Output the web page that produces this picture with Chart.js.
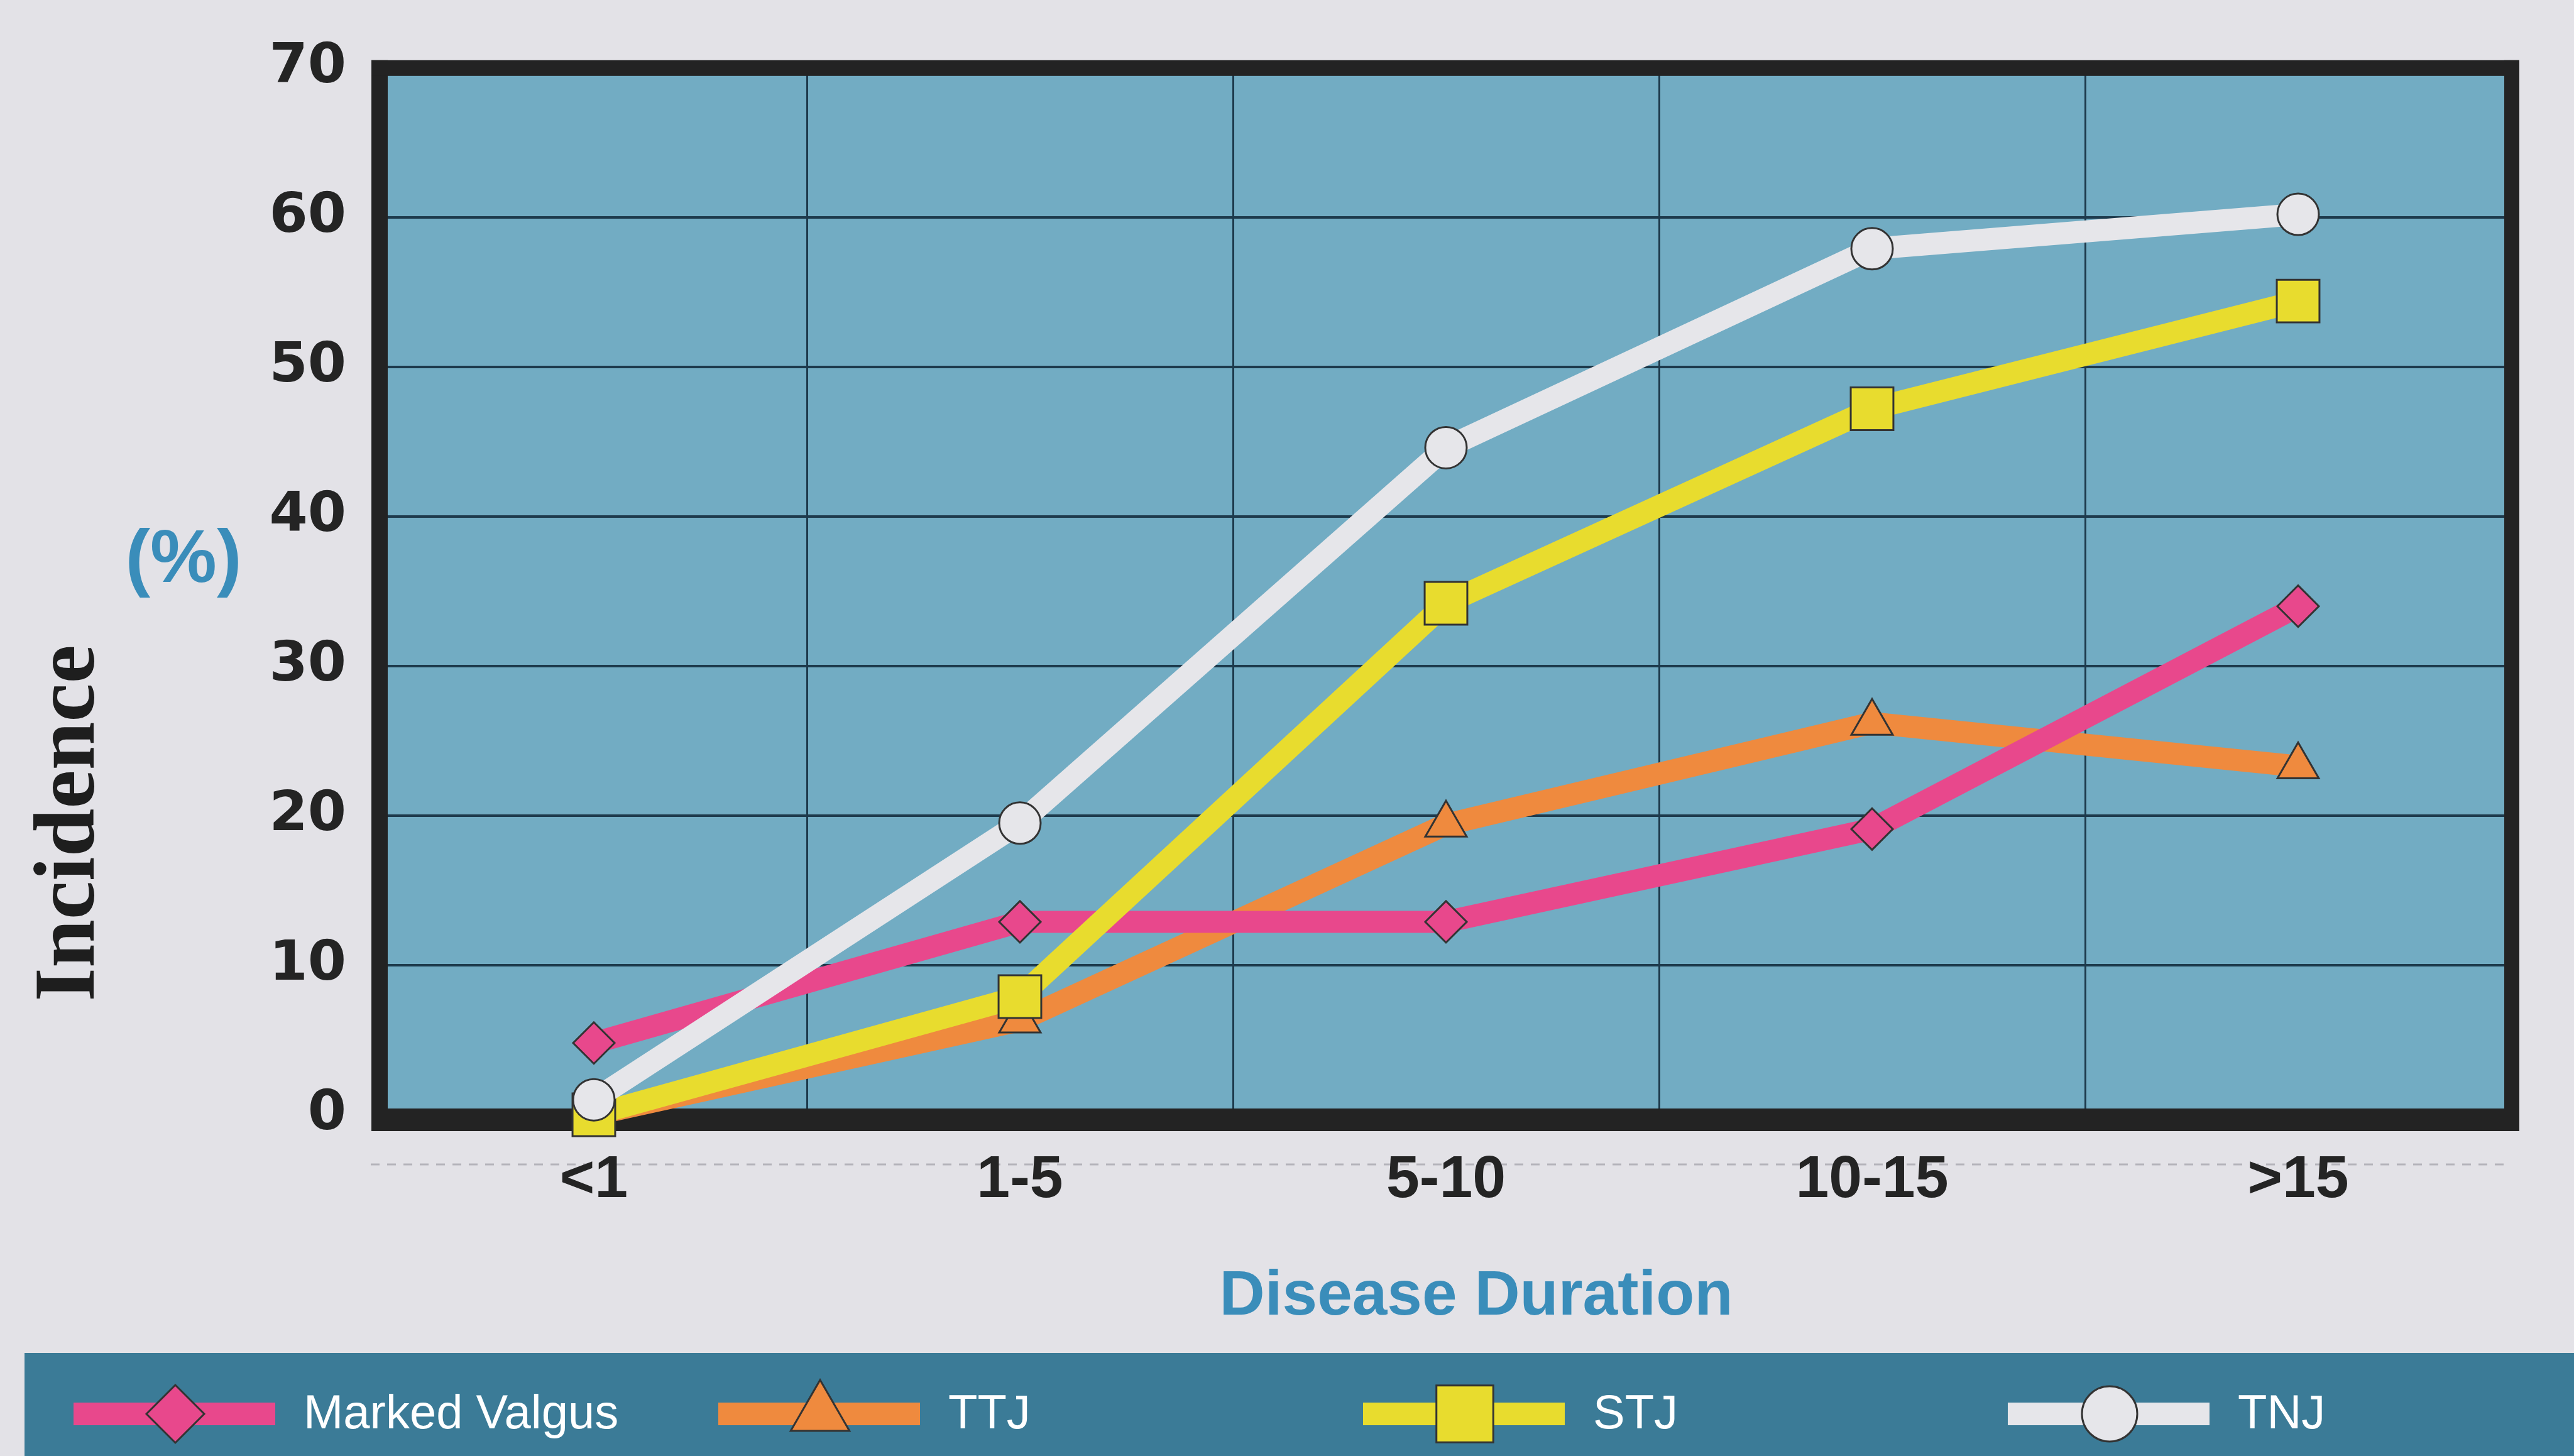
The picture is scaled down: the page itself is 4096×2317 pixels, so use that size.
<!DOCTYPE html>
<html lang="en">
<head>
<meta charset="UTF-8">
<title>Incidence by Disease Duration</title>
<script src="https://cdn.jsdelivr.net/npm/chart.js@4.4.1/dist/chart.umd.min.js"></script>
<style>
  html, body { margin: 0; padding: 0; background: #e3e2e7; overflow: hidden; }
  #wrap { position: relative; width: 4096px; height: 2317px; }
</style>
</head>
<body>
<div id="wrap"><canvas id="chart"></canvas></div>
<script>
// values (incidence in %)
const durations = ['<1', '1-5', '5-10', '10-15', '>15'];
const seriesNames = ['Marked Valgus', 'TTJ', 'STJ', 'TNJ'];
const markedValgus = [4.8, 12.9, 12.9, 19.1, 34.0];
const ttj = [0, 6.3, 19.4, 26.2, 23.3];
const stj = [0, 7.9, 34.2, 47.2, 54.4];
const tnj = [1.0, 19.5, 44.6, 57.9, 60.2];

const BLUE_TEXT = '#3a8dba';
const PLOT_BG = '#72acc3';
const GRID = '#1d3a4c';
const LEGEND_BG = '#3b7b97';
const OUTLINE = '#333333';

// legend marker sizes are bigger than the ones on the plot
const legendRadius = { rectRot: 46, triangle: 54, rect: 64, circle: 44 };

function series(label, data, color, style, radius, order) {
    return {
        label: label,
        data: data,
        borderColor: color,
        backgroundColor: color,
        borderWidth: 35,
        pointStyle: style,
        pointRadius: radius,
        pointBackgroundColor: color,
        pointBorderColor: OUTLINE,
        pointBorderWidth: 3,
        tension: 0,
        clip: false,
        order: order
    };
}

// page background, plot fill, legend band and the dashed rule under the axis
const backdrop = {
    id: 'backdrop',
    beforeDraw(chart) {
        const { ctx, chartArea: ca, width, height } = chart;
        ctx.save();
        ctx.fillStyle = '#e3e2e7';
        ctx.fillRect(0, 0, width, height);
        ctx.fillStyle = PLOT_BG;
        ctx.fillRect(ca.left, ca.top, ca.right - ca.left, ca.bottom - ca.top);
        ctx.fillStyle = LEGEND_BG;
        ctx.fillRect(39, 2153, width - 39, height - 2153);
        ctx.strokeStyle = '#b5b4bb';
        ctx.lineWidth = 3;
        ctx.setLineDash([14, 12]);
        ctx.beginPath();
        ctx.moveTo(ca.left - 16, ca.bottom + 79);
        ctx.lineTo(ca.right - 2, ca.bottom + 79);
        ctx.stroke();
        ctx.restore();
    }
};

// thick black frame round the plot, under the markers
const frame = {
    id: 'frame',
    beforeDatasetsDraw(chart) {
        const { ctx, chartArea: ca } = chart;
        ctx.save();
        ctx.fillStyle = '#232323';
        ctx.fillRect(ca.left - 15, ca.top - 12, 26, ca.bottom - ca.top + 38);
        ctx.fillRect(ca.left - 15, ca.top - 12, ca.right - ca.left + 28, 25);
        ctx.fillRect(ca.right - 11, ca.top - 12, 24, ca.bottom - ca.top + 38);
        ctx.fillRect(ca.left - 15, ca.bottom - 10, ca.right - ca.left + 28, 36);
        ctx.restore();
    }
};

// axis captions and the legend strip
const decorations = {
    id: 'decorations',
    afterDraw(chart) {
        const ctx = chart.ctx;
        ctx.save();

        ctx.translate(149, 1310);
        ctx.rotate(-Math.PI / 2);
        ctx.fillStyle = '#1e1e1e';
        ctx.font = 'bold 138px "Liberation Serif"';
        ctx.textAlign = 'center';
        ctx.textBaseline = 'alphabetic';
        ctx.fillText('Incidence', 0, 0);
        ctx.setTransform(1, 0, 0, 1, 0, 0);

        ctx.fillStyle = BLUE_TEXT;
        ctx.font = 'bold 119px "Liberation Sans"';
        ctx.textAlign = 'center';
        ctx.textBaseline = 'middle';
        ctx.fillText('(%)', 292, 893);

        // x caption sits a little right of the plot centre in the original
        ctx.font = 'bold 100px "Liberation Sans"';
        ctx.fillText('Disease Duration', 2349, 2064);

        chart.data.datasets.forEach((ds, i) => {
            const x0 = 117 + i * 1026;
            const y = 2250;
            ctx.strokeStyle = ds.borderColor;
            ctx.lineWidth = 36;
            ctx.lineCap = 'butt';
            ctx.beginPath();
            ctx.moveTo(x0, y);
            ctx.lineTo(x0 + 321, y);
            ctx.stroke();

            ctx.fillStyle = ds.pointBackgroundColor;
            ctx.strokeStyle = OUTLINE;
            ctx.lineWidth = 3;
            Chart.helpers.drawPoint(ctx, {
                pointStyle: ds.pointStyle,
                radius: legendRadius[ds.pointStyle],
                borderWidth: 3,
                rotation: 0
            }, x0 + 162, y);

            ctx.fillStyle = '#ffffff';
            ctx.font = '76px "Liberation Sans"';
            ctx.textAlign = 'left';
            ctx.textBaseline = 'middle';
            ctx.fillText(ds.label, x0 + 366, y + 2);
        });
        ctx.restore();
    }
};

const chart = new Chart(document.getElementById('chart'), {
    type: 'line',
    data: {
        labels: durations,
        datasets: [
            series(seriesNames[0], markedValgus, '#e8488c', 'rectRot', 33, 3),
            series(seriesNames[1], ttj, '#ef8a3e', 'triangle', 38, 4),
            series(seriesNames[2], stj, '#e8dc2e', 'rect', 48, 2),
            series(seriesNames[3], tnj, '#e6e6ea', 'circle', 33, 1)
        ]
    },
    options: {
        responsive: true,
        maintainAspectRatio: false,
        animation: false,
        layout: { padding: { left: 0, top: 100, right: 100, bottom: 164 } },
        plugins: {
            legend: { display: false },
            tooltip: { enabled: false }
        },
        scales: {
            x: {
                offset: true,
                grid: { offset: true, color: GRID, lineWidth: 3, drawTicks: false },
                border: { display: false },
                ticks: {
                    color: '#242424',
                    padding: 48,
                    maxRotation: 0,
                    font: { family: 'Liberation Sans', weight: 'bold', size: 95 }
                },
                afterFit(scale) { scale.height = 379; }
            },
            y: {
                min: 0,
                max: 70,
                grid: { color: GRID, lineWidth: 4, drawTicks: false },
                border: { display: false },
                ticks: {
                    stepSize: 10,
                    color: '#242424',
                    padding: 55,
                    font: { family: 'DejaVu Sans', weight: 'bold', size: 88 }
                },
                afterFit(scale) { scale.width = 606; }
            }
        }
    },
    plugins: [backdrop, frame, decorations]
});
</script>
</body>
</html>
